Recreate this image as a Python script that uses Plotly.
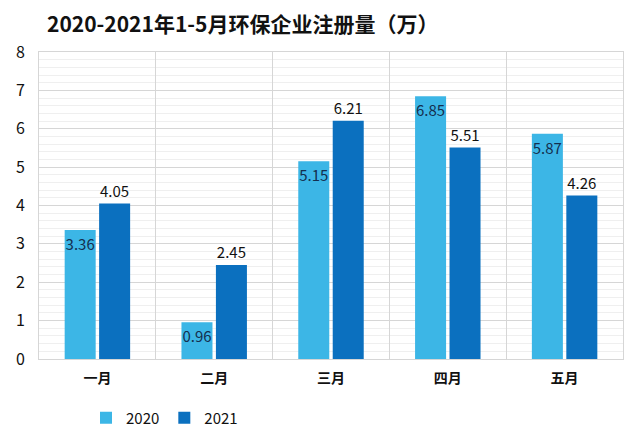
import plotly.graph_objects as go

months = ['一月', '二月', '三月', '四月', '五月']
vals_2020 = [3.36, 0.96, 5.15, 6.85, 5.87]
vals_2021 = [4.05, 2.45, 6.21, 5.51, 4.26]

FONT = 'Noto Sans CJK SC'
# the page puts the figure 8px in from the top-left corner of the window,
# so everything below is laid out in window pixels minus that offset
OFF = 8
W, H = 640 - OFF, 430 - OFF
PLOT_L, PLOT_R, PLOT_T, PLOT_B = 39 - OFF, 623 - OFF, 52 - OFF, 359 - OFF


def px_x(x):
    return (x - OFF - PLOT_L) / (PLOT_R - PLOT_L)


def px_y(y):
    return (PLOT_B - (y - OFF)) / (PLOT_B - PLOT_T)


fig = go.Figure()

fig.add_trace(go.Bar(
    x=months, y=vals_2020, name='2020',
    marker=dict(color='rgb(60,182,230)', line=dict(width=0)),
    text=[f'{v:.2f}' for v in vals_2020],
    textposition='inside', insidetextanchor='end', textangle=0,
    constraintext='none',
    insidetextfont=dict(family=FONT, size=15, color='#142f4f'),
))
fig.add_trace(go.Bar(
    x=months, y=vals_2021, name='2021',
    marker=dict(color='rgb(11,112,191)', line=dict(width=0)),
    text=[f'{v:.2f}' for v in vals_2021],
    textposition='outside', textangle=0,
    constraintext='none', cliponaxis=False,
    outsidetextfont=dict(family=FONT, size=15, color='#111111'),
))

# faint right edge of the picture frame
fig.add_shape(type='line', xref='paper', yref='paper',
              x0=px_x(634), x1=px_x(634), y0=px_y(30), y1=px_y(432),
              line=dict(color='#e2e2e2', width=1.5), layer='below')

fig.update_layout(
    width=W, height=H,
    margin=dict(l=PLOT_L, r=W - PLOT_R, t=PLOT_T, b=H - PLOT_B,
                autoexpand=False),
    paper_bgcolor='white', plot_bgcolor='white',
    font=dict(family=FONT, color='#111111'),
    title=dict(
        text='<b>2020-2021年1-5月环保企业注册量（万）</b>',
        font=dict(family=FONT, size=21, color='#111111'),
        x=(47 - OFF) / W, xanchor='left', xref='container',
        y=1 - 17 / H, yanchor='middle', yref='container',
    ),
    barmode='group', bargap=0.41, bargroupgap=0.1,
    showlegend=True,
    legend=dict(
        orientation='h', x=px_x(86), y=px_y(418),
        xanchor='left', yanchor='middle',
        font=dict(family=FONT, size=15, color='#111111'),
        itemwidth=30, tracegroupgap=0,
    ),
    xaxis=dict(
        type='category', tickson='boundaries', showgrid=True,
        gridcolor='#d6d6d6', gridwidth=1, ticks='',
        showline=True, linecolor='#d6d6d6', mirror=True,
        tickfont=dict(family=FONT, size=14, color='#111111', weight=700),
        ticklabelstandoff=6, automargin=False,
    ),
    yaxis=dict(
        range=[0, 8], dtick=1, showgrid=True,
        gridcolor='#d6d6d6', gridwidth=1,
        minor=dict(dtick=0.2, showgrid=True, gridcolor='#efefef', gridwidth=1),
        showline=True, linecolor='#d6d6d6', mirror=True,
        zeroline=False, ticks='',
        tickfont=dict(family=FONT, size=16, color='#111111'),
        ticklabelstandoff=10, automargin=False,
    ),
)

fig.write_html('out.html')
